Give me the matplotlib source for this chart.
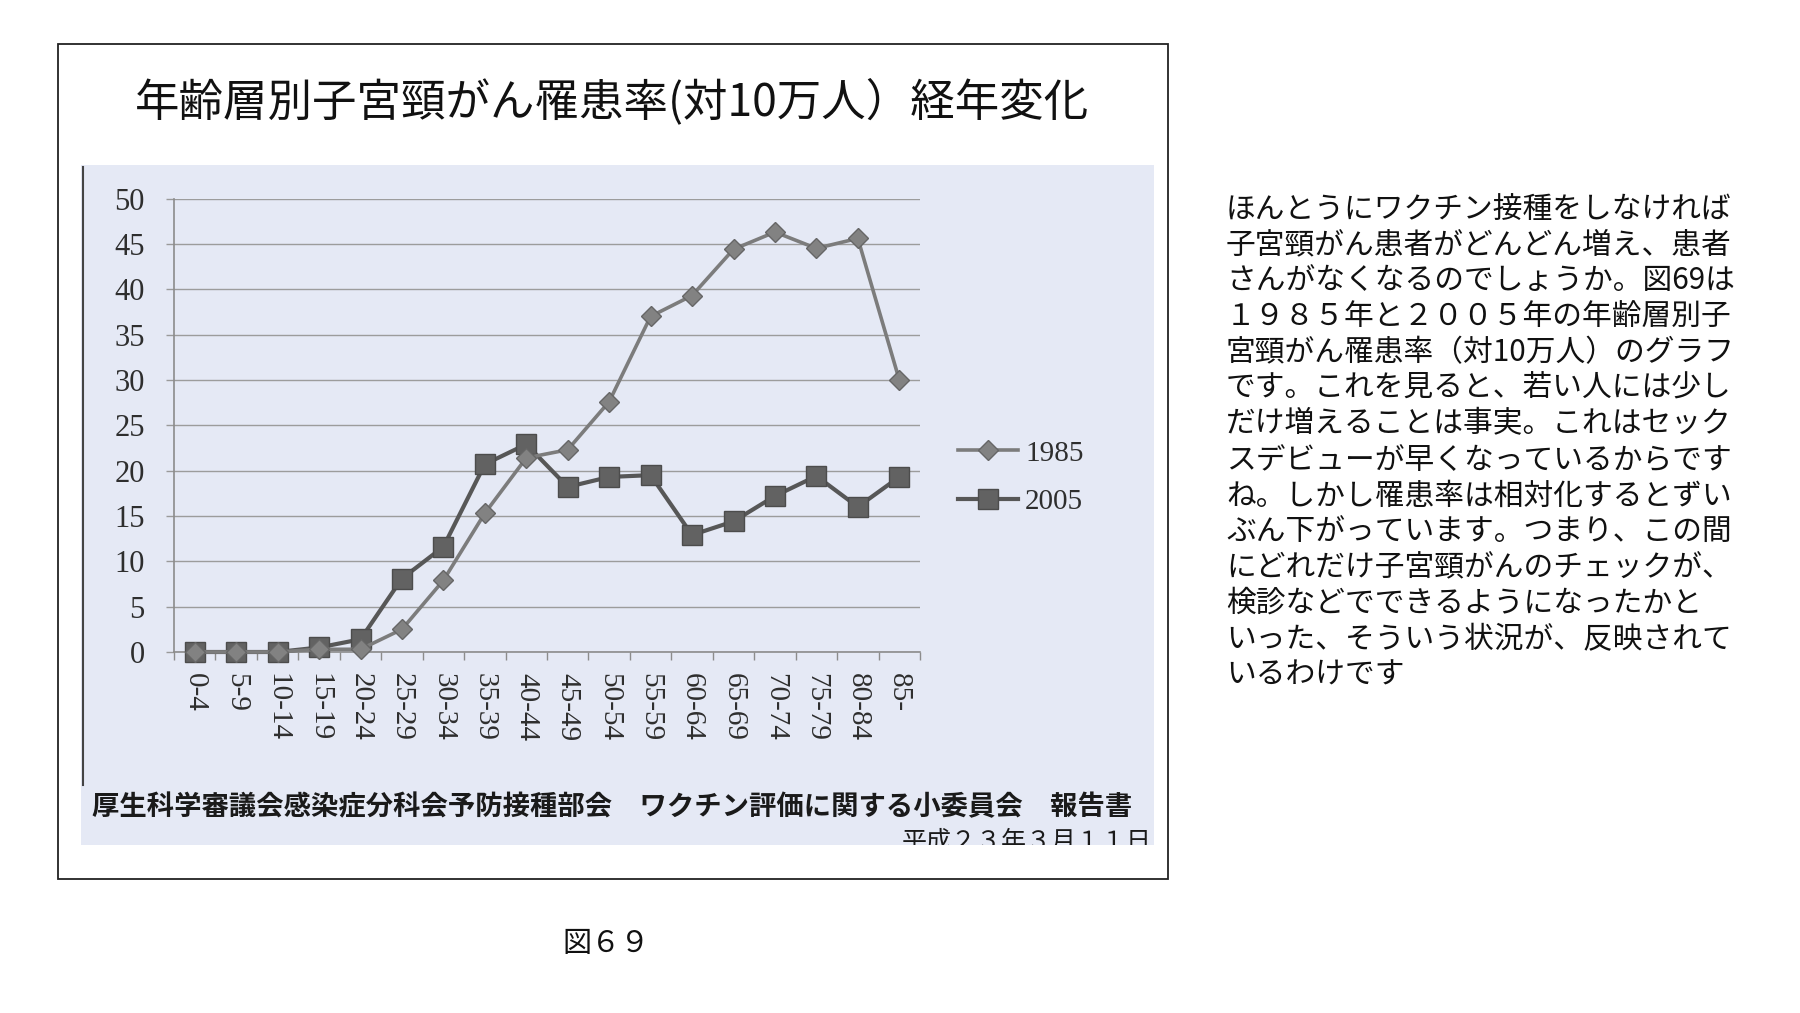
import numpy as np
import matplotlib
matplotlib.use('Agg')
import matplotlib.pyplot as plt
from matplotlib.patches import Rectangle
from matplotlib.lines import Line2D
from matplotlib.font_manager import FontProperties

plt.rcParams['font.family'] = ['Noto Sans CJK JP', 'DejaVu Sans']

# ------------------------------------------------------------------
# data

ages = ['0-4', '5-9', '10-14', '15-19', '20-24', '25-29', '30-34', '35-39', '40-44',
        '45-49', '50-54', '55-59', '60-64', '65-69', '70-74', '75-79', '80-84', '85-']
rate1985 = [0, 0, 0, 0.3, 0.3, 2.5, 7.9, 15.3, 21.4, 22.3, 27.6, 37.0, 39.3, 44.4, 46.3, 44.5, 45.6, 30.0]
rate2005 = [0, 0, 0, 0.5, 1.4, 8.1, 11.6, 20.7, 22.9, 18.2, 19.3, 19.5, 12.9, 14.4, 17.2, 19.4, 16.0, 19.3]
yticks = list(range(0, 51, 5))

title = '年齢層別子宮頸がん罹患率(対10万人）経年変化'
source = '厚生科学審議会感染症分科会予防接種部会\u3000ワクチン評価に関する小委員会\u3000報告書'
date = '平成２３年３月１１日'
caption = '図６９'
body = ['ほんとうにワクチン接種をしなければ',
        '子宮頸がん患者がどんどん増え、患者',
        'さんがなくなるのでしょうか。図69は',
        '１９８５年と２００５年の年齢層別子',
        '宮頸がん罹患率（対10万人）のグラフ',
        'です。これを見ると、若い人には少し',
        'だけ増えることは事実。これはセック',
        'スデビューが早くなっているからです',
        'ね。しかし罹患率は相対化するとずい',
        'ぶん下がっています。つまり、この間',
        'にどれだけ子宮頸がんのチェックが、',
        '検診などでできるようになったかと',
        'いった、そういう状況が、反映されて',
        'いるわけです']

# ------------------------------------------------------------------

W, H = 1800.0, 1013.0


def box(x0, y0, x1, y1):
    # pixel box (top-left origin) -> figure fraction
    return [x0 / W, 1 - y1 / H, (x1 - x0) / W, (y1 - y0) / H]


serif = 'Liberation Serif'
ink = '#2e2e2e'

fig = plt.figure(figsize=(18, 10.13), dpi=100)
fig.patch.set_facecolor('white')

# frame around the slide picture
fig.add_artist(Rectangle((58 / W, 1 - 879 / H), (1168 - 58) / W, (879 - 44) / H,
                         transform=fig.transFigure, fill=False, ec='#222222', lw=1.3))

fig.text(612 / W, 1 - 101.5 / H, title, ha='center', va='center', fontsize=32, color='#111111')

# scanned area
bg = fig.add_axes(box(81, 165, 1154, 845))
bg.set_facecolor('#e5e9f5')
bg.set_xlim(81, 1154)
bg.set_ylim(845, 165)
bg.set_xticks([])
bg.set_yticks([])
for s in bg.spines.values():
    s.set_visible(False)
bg.text(92, 807, source, ha='left', va='center', fontsize=19.7, fontweight='bold', color='#1a1a1a')
bg.text(1152, 842, date, ha='right', va='center', fontsize=18, color='#1a1a1a', clip_on=True)

fig.add_artist(Line2D([83 / W, 83 / W], [1 - 167 / H, 1 - 785 / H],
                      transform=fig.transFigure, color='#444444', lw=1.5))

# the chart itself
ax = fig.add_axes(box(174, 198.5, 920, 652))
ax.patch.set_alpha(0)
x = np.arange(len(ages))
ax.plot(x, rate2005, color='#575757', lw=3.0, marker='s', ms=14, mfc='#626262', mec='#4c4c4c',
        label='2005', clip_on=False, zorder=3)
ax.plot(x, rate1985, color='#7c7c7c', lw=2.6, marker='D', ms=10, mfc='#828282', mec='#666666',
        label='1985', clip_on=False, zorder=4)

ax.set_xlim(-0.5, len(ages) - 0.5)
ax.set_ylim(0, 50)
ax.set_yticks(yticks)
ax.set_yticklabels([str(v) for v in yticks], fontfamily=serif, fontsize=22, color=ink)
ax.set_xticks(x)
ax.set_xticklabels(ages, fontfamily=serif, fontsize=21, color=ink, rotation=-90)
ax.set_xticks(np.arange(-0.5, len(ages), 1), minor=True)
ax.tick_params(axis='x', which='major', length=0, pad=15)
ax.tick_params(axis='x', which='minor', length=6, color='#8c8c8c', width=1)
ax.tick_params(axis='y', length=6, color='#9a9a9a', width=1, pad=15)
ax.yaxis.grid(True, color='#9c9c9c', lw=1.0)
ax.set_axisbelow(True)
for side in ['top', 'right']:
    ax.spines[side].set_visible(False)
for side in ['left', 'bottom']:
    ax.spines[side].set_color('#8c8c8c')
    ax.spines[side].set_linewidth(1.2)

h, l = ax.get_legend_handles_labels()
fig.legend(h[::-1], l[::-1], loc='center left', bbox_to_anchor=(958 / W, 1 - 477.5 / H),
           frameon=False, borderpad=0, borderaxespad=0, handlelength=2.05, handletextpad=0.25,
           labelspacing=0.75, prop=FontProperties(family=serif, size=21), labelcolor=ink)

# text on the right
for i, line in enumerate(body):
    fig.text(1226 / W, 1 - (209 + i * 35.86) / H, line, ha='left', va='center',
             fontsize=21.4, color='#111111')

fig.text(606 / W, 1 - 944 / H, caption, ha='center', va='center', fontsize=21, color='#111111')

plt.savefig('out.png', dpi=100)
plt.close()
